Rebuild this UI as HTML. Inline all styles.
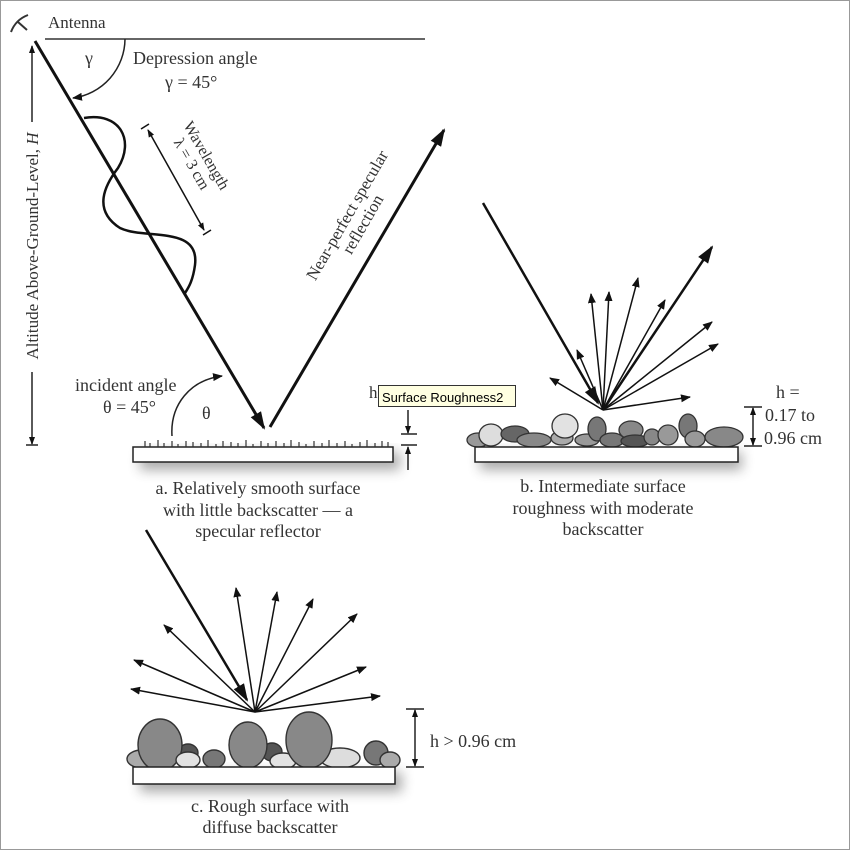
<!DOCTYPE html>
<html><head><meta charset="utf-8"><style>
html,body{margin:0;padding:0;background:#fff}
svg{display:block}
text{font-family:"Liberation Serif",serif;fill:#333}
</style></head><body>
<svg width="850" height="850" viewBox="0 0 850 850">
<defs>
<marker id="ah" markerWidth="10" markerHeight="8" refX="9" refY="4" orient="auto" markerUnits="userSpaceOnUse"><path d="M0,0 L10,4 L0,8 z" fill="#111"/></marker>
<marker id="ahb" markerWidth="18" markerHeight="12" refX="16" refY="6" orient="auto" markerUnits="userSpaceOnUse"><path d="M0,0 L18,6 L0,12 z" fill="#111"/></marker>
<marker id="ahs" markerWidth="8" markerHeight="6" refX="7" refY="3" orient="auto-start-reverse" markerUnits="userSpaceOnUse"><path d="M0,0 L8,3 L0,6 z" fill="#111"/></marker>
<filter id="sh" x="-20%" y="-50%" width="140%" height="250%"><feGaussianBlur stdDeviation="6"/></filter>
</defs>
<rect x="0.5" y="0.5" width="849" height="849" fill="#fff" stroke="#999"/>

<g><path d="M11,32 C14,24 20,18 28,15 M18,22 L27,30" stroke="#333" stroke-width="2" fill="none"/></g>
<text x="48" y="28" font-size="17">Antenna</text>
<line x1="45" y1="39" x2="425" y2="39" stroke="#666" stroke-width="2"/>

<g>
<line x1="32" y1="46" x2="32" y2="122" stroke="#222" stroke-width="1.5" marker-start="url(#ahs)"/>
<line x1="32" y1="372" x2="32" y2="444" stroke="#222" stroke-width="1.5" marker-end="url(#ahs)"/>
<line x1="26" y1="445" x2="38" y2="445" stroke="#222" stroke-width="1.5"/>
</g>
<text transform="translate(38,246) rotate(-90)" text-anchor="middle" font-size="17">Altitude Above-Ground-Level, <tspan font-style="italic">H</tspan></text>

<path d="M125,39 A60,60 0 0 1 73,98" fill="none" stroke="#222" stroke-width="1.5" marker-end="url(#ah)"/>
<text x="85" y="64" font-size="18">γ</text>
<text x="133" y="64" font-size="18">Depression angle</text>
<text x="165" y="88" font-size="18">γ = 45°</text>

<line x1="35" y1="41" x2="264" y2="428" stroke="#111" stroke-width="3" marker-end="url(#ahb)"/>
<path d="M84,118 C120,112 135,140 118,168 C105,185 92,210 120,228 C145,240 200,225 195,265 C193,280 189,287 185,293" fill="none" stroke="#111" stroke-width="2.5"/>
<g>
<line x1="148" y1="130" x2="204" y2="230" stroke="#111" stroke-width="1.5" marker-start="url(#ahs)" marker-end="url(#ahs)"/>
<line x1="141" y1="129" x2="149" y2="124" stroke="#111" stroke-width="1.5"/>
<line x1="203" y1="235" x2="211" y2="230" stroke="#111" stroke-width="1.5"/>
</g>
<text transform="translate(202,158) rotate(60)" text-anchor="middle" font-size="16"><tspan x="0" dy="0">Wavelength</tspan><tspan x="0" dy="17">λ = 3 cm</tspan></text>

<line x1="270" y1="427" x2="444" y2="130" stroke="#111" stroke-width="3" marker-end="url(#ahb)"/>
<text transform="translate(352,218) rotate(-60)" text-anchor="middle" font-size="17"><tspan x="0" dy="0">Near-perfect specular</tspan><tspan x="0" dy="18">reflection</tspan></text>

<text x="75" y="391" font-size="18">incident angle</text>
<text x="103" y="413" font-size="18">θ = 45°</text>
<path d="M172,436 C170,405 190,380 222,376" fill="none" stroke="#222" stroke-width="1.5" marker-end="url(#ah)"/>
<text x="202" y="419" font-size="18">θ</text>

<rect x="140" y="452" width="260" height="18" fill="#444" opacity="0.45" filter="url(#sh)"/>
<rect x="133" y="447" width="260" height="15" fill="#fff" stroke="#222" stroke-width="1.5"/>
<path d="M145,447v-6M150,447v-4M158,447v-7M164,447v-4M172,447v-6M178,447v-3M186,447v-6M193,447v-5M201,447v-4M208,447v-7M216,447v-3M223,447v-6M231,447v-5M238,447v-4M246,447v-7M253,447v-3M261,447v-6M268,447v-4M276,447v-6M284,447v-4M291,447v-7M299,447v-5M306,447v-3M314,447v-6M322,447v-4M329,447v-7M337,447v-4M345,447v-6M352,447v-3M360,447v-5M367,447v-7M375,447v-4M382,447v-6M388,447v-5" stroke="#333" stroke-width="1.2"/>
<g>
<line x1="408" y1="410" x2="408" y2="433" stroke="#222" stroke-width="1.5" marker-end="url(#ahs)"/>
<line x1="401" y1="434" x2="417" y2="434" stroke="#222" stroke-width="1.5"/>
<line x1="401" y1="445" x2="417" y2="445" stroke="#222" stroke-width="1.5"/>
<line x1="408" y1="470" x2="408" y2="447" stroke="#222" stroke-width="1.5" marker-end="url(#ahs)"/>
</g>
<text x="369" y="398" font-size="17">h</text>
<g>
<rect x="378.5" y="385.5" width="137" height="21" fill="#ffffe1" stroke="#333"/>
<text x="382" y="402" font-size="13" style="font-family:'Liberation Sans',sans-serif;fill:#000">Surface Roughness2</text>
</g>
<text text-anchor="middle" font-size="18"><tspan x="258" y="494">a. Relatively smooth surface</tspan><tspan x="258" y="516">with little backscatter — a</tspan><tspan x="258" y="537">specular reflector</tspan></text>

<line x1="483" y1="203" x2="598" y2="403" stroke="#111" stroke-width="2.5" marker-end="url(#ahb)"/>
<g stroke="#111" stroke-width="1.5">
<line x1="603" y1="410" x2="550" y2="378" marker-end="url(#ah)"/>
<line x1="603" y1="410" x2="577" y2="350" marker-end="url(#ah)"/>
<line x1="603" y1="410" x2="591" y2="294" marker-end="url(#ah)"/>
<line x1="603" y1="410" x2="609" y2="292" marker-end="url(#ah)"/>
<line x1="603" y1="410" x2="638" y2="278" marker-end="url(#ah)"/>
<line x1="603" y1="410" x2="665" y2="300" marker-end="url(#ah)"/>
<line x1="603" y1="410" x2="712" y2="322" marker-end="url(#ah)"/>
<line x1="603" y1="410" x2="718" y2="344" marker-end="url(#ah)"/>
<line x1="603" y1="410" x2="690" y2="397" marker-end="url(#ah)"/>
</g>
<line x1="603" y1="410" x2="712" y2="247" stroke="#111" stroke-width="2.5" marker-end="url(#ahb)"/>
<rect x="480" y="452" width="262" height="18" fill="#444" opacity="0.45" filter="url(#sh)"/>
<g stroke="#333" stroke-width="1.3">
<ellipse cx="478" cy="440" rx="11" ry="7" fill="#999"/>
<ellipse cx="491" cy="435" rx="12" ry="11" fill="#ddd"/>
<ellipse cx="515" cy="434" rx="14" ry="8" fill="#666"/>
<ellipse cx="534" cy="440" rx="17" ry="7" fill="#888"/>
<ellipse cx="562" cy="438" rx="11" ry="7" fill="#aaa"/>
<ellipse cx="565" cy="426" rx="13" ry="12" fill="#e2e2e2"/>
<ellipse cx="587" cy="440" rx="12" ry="6" fill="#999"/>
<ellipse cx="597" cy="429" rx="9" ry="12" fill="#777"/>
<ellipse cx="612" cy="440" rx="12" ry="7" fill="#777"/>
<ellipse cx="631" cy="430" rx="12" ry="9" fill="#888"/>
<ellipse cx="635" cy="441" rx="14" ry="6" fill="#555"/>
<ellipse cx="652" cy="437" rx="8" ry="8" fill="#888"/>
<ellipse cx="668" cy="435" rx="10" ry="10" fill="#999"/>
<ellipse cx="688" cy="426" rx="9" ry="12" fill="#777"/>
<ellipse cx="695" cy="439" rx="10" ry="8" fill="#999"/>
<ellipse cx="724" cy="437" rx="19" ry="10" fill="#888"/>
</g>
<rect x="475" y="447" width="263" height="15" fill="#fff" stroke="#222" stroke-width="1.5"/>
<g>
<line x1="744" y1="407" x2="762" y2="407" stroke="#222" stroke-width="1.5"/>
<line x1="744" y1="446" x2="762" y2="446" stroke="#222" stroke-width="1.5"/>
<line x1="753" y1="408" x2="753" y2="445" stroke="#222" stroke-width="1.5" marker-start="url(#ahs)" marker-end="url(#ahs)"/>
</g>
<text font-size="18"><tspan x="776" y="398">h =</tspan><tspan x="765" y="421">0.17 to</tspan><tspan x="764" y="444">0.96 cm</tspan></text>
<text text-anchor="middle" font-size="18"><tspan x="603" y="492">b. Intermediate surface</tspan><tspan x="603" y="514">roughness with moderate</tspan><tspan x="603" y="535">backscatter</tspan></text>

<line x1="146" y1="530" x2="247" y2="700" stroke="#111" stroke-width="2.5" marker-end="url(#ahb)"/>
<g stroke="#111" stroke-width="1.5">
<line x1="255" y1="712" x2="131" y2="689" marker-end="url(#ah)"/>
<line x1="255" y1="712" x2="134" y2="660" marker-end="url(#ah)"/>
<line x1="255" y1="712" x2="164" y2="625" marker-end="url(#ah)"/>
<line x1="255" y1="712" x2="236" y2="588" marker-end="url(#ah)"/>
<line x1="255" y1="712" x2="277" y2="592" marker-end="url(#ah)"/>
<line x1="255" y1="712" x2="313" y2="599" marker-end="url(#ah)"/>
<line x1="255" y1="712" x2="357" y2="614" marker-end="url(#ah)"/>
<line x1="255" y1="712" x2="366" y2="667" marker-end="url(#ah)"/>
<line x1="255" y1="712" x2="380" y2="696" marker-end="url(#ah)"/>
</g>
<rect x="140" y="772" width="262" height="20" fill="#444" opacity="0.45" filter="url(#sh)"/>
<g stroke="#333" stroke-width="1.4">
<ellipse cx="142" cy="759" rx="15" ry="9" fill="#aaa"/>
<ellipse cx="188" cy="753" rx="10" ry="9" fill="#555"/>
<ellipse cx="160" cy="745" rx="22" ry="26" fill="#888"/>
<ellipse cx="188" cy="760" rx="12" ry="8" fill="#e2e2e2"/>
<ellipse cx="214" cy="759" rx="11" ry="9" fill="#777"/>
<ellipse cx="272" cy="752" rx="10" ry="9" fill="#555"/>
<ellipse cx="248" cy="745" rx="19" ry="23" fill="#888"/>
<ellipse cx="283" cy="761" rx="13" ry="8" fill="#e2e2e2"/>
<ellipse cx="340" cy="758" rx="20" ry="10" fill="#ddd"/>
<ellipse cx="309" cy="740" rx="23" ry="28" fill="#888"/>
<ellipse cx="376" cy="753" rx="12" ry="12" fill="#777"/>
<ellipse cx="390" cy="760" rx="10" ry="8" fill="#aaa"/>
</g>
<rect x="133" y="767" width="262" height="17" fill="#fff" stroke="#222" stroke-width="1.5"/>
<g>
<line x1="406" y1="709" x2="424" y2="709" stroke="#222" stroke-width="1.5"/>
<line x1="406" y1="767" x2="424" y2="767" stroke="#222" stroke-width="1.5"/>
<line x1="415" y1="710" x2="415" y2="766" stroke="#222" stroke-width="1.5" marker-start="url(#ahs)" marker-end="url(#ahs)"/>
</g>
<text x="430" y="747" font-size="18">h &gt; 0.96 cm</text>
<text text-anchor="middle" font-size="18"><tspan x="270" y="812">c. Rough surface with</tspan><tspan x="270" y="833">diffuse backscatter</tspan></text>
</svg>
</body></html>
